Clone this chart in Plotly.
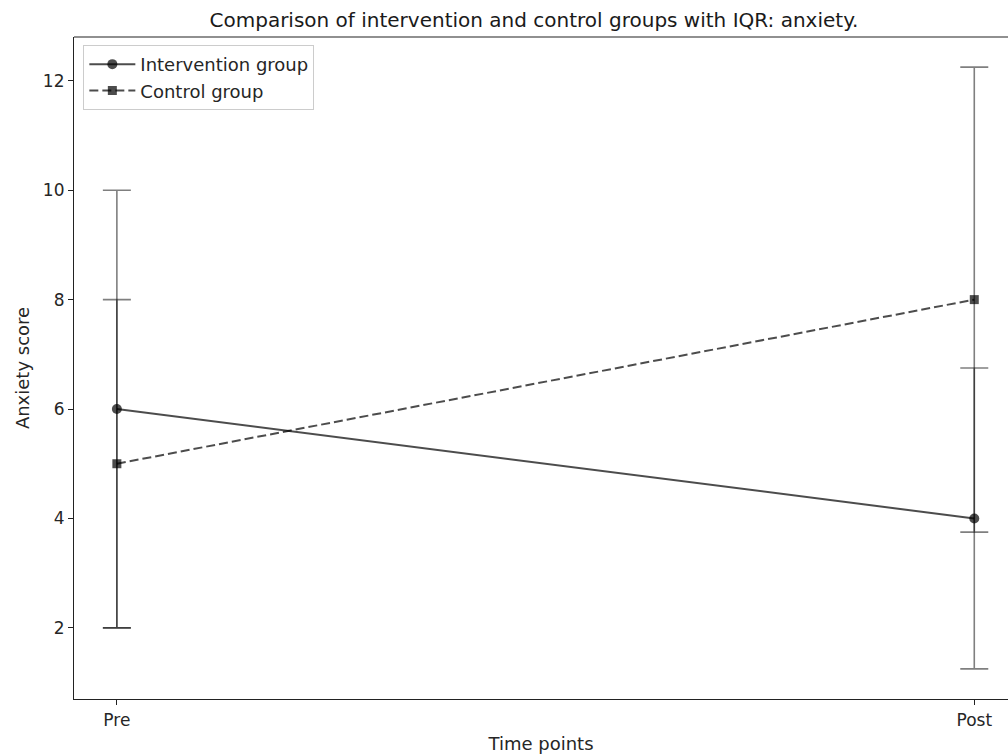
import plotly.graph_objects as go

time_points = ["Pre", "Post"]
x_pos = [0, 1]

intervention_median = [6, 4]
intervention_q1 = [2, 3.75]
intervention_q3 = [8, 6.75]

control_median = [5, 8]
control_q1 = [2, 1.25]
control_q3 = [10, 12.25]

line_col = "rgba(0,0,0,0.7)"
err_col = "rgba(0,0,0,0.5)"
font_family = "DejaVu Sans"

def err(med, q1, q3):
    return dict(type="data", symmetric=False,
                array=[h - m for m, h in zip(med, q3)],
                arrayminus=[m - l for m, l in zip(med, q1)],
                color=err_col, thickness=1.6, width=14)

fig = go.Figure()
fig.add_trace(go.Scatter(
    x=x_pos, y=intervention_median, name="Intervention group",
    mode="lines+markers",
    line=dict(color=line_col, width=2),
    marker=dict(symbol="circle", size=10, color=line_col),
    error_y=err(intervention_median, intervention_q1, intervention_q3),
))
fig.add_trace(go.Scatter(
    x=x_pos, y=control_median, name="Control group",
    mode="lines+markers",
    line=dict(color=line_col, width=2, dash="9px,4px"),
    marker=dict(symbol="square", size=9, color=line_col),
    error_y=err(control_median, control_q1, control_q3),
))

fig.update_layout(
    width=1008, height=755,
    margin=dict(l=74, r=0, t=37, b=56),
    paper_bgcolor="white", plot_bgcolor="white",
    font=dict(family=font_family, size=18, color="#262626"),
    title=dict(text="Comparison of intervention and control groups with IQR: anxiety.",
               xref="container", yref="container", x=534/1008, y=1-20/755,
               xanchor="center", yanchor="middle",
               font=dict(family=font_family, size=20, color="#1a1a1a")),
    showlegend=True,
    legend=dict(x=0.01, y=0.988, xanchor="left", yanchor="top",
                bgcolor="rgba(255,255,255,0.8)", bordercolor="#cccccc", borderwidth=1,
                font=dict(family=font_family, size=18, color="#262626"),
                tracegroupgap=0, itemwidth=46),
    shapes=[dict(type="line", xref="paper", yref="paper", x0=0, x1=1, y0=1, y1=1,
                 line=dict(color="#222", width=1.2))],
)
fig.update_xaxes(
    range=[-0.05, 1 + (1008 - 974.3) / 856.8],
    tickmode="array", tickvals=x_pos, ticktext=time_points,
    showline=True, linecolor="#222", linewidth=1.2, mirror=False,
    ticks="outside", ticklen=5, tickcolor="#222",
    showgrid=False, zeroline=False,
    title=dict(text="Time points", standoff=8, font=dict(size=18)),
    tickfont=dict(size=17),
)
fig.update_yaxes(
    range=[0.7, 12.8],
    tickmode="array", tickvals=[2, 4, 6, 8, 10, 12],
    showline=True, linecolor="#222", linewidth=1.2, mirror=False,
    ticks="outside", ticklen=5, tickcolor="#222",
    showgrid=False, zeroline=False,
    title=dict(text="Anxiety score", standoff=8, font=dict(size=18)),
    tickfont=dict(size=17),
)

fig.write_html("out.html", config={"displayModeBar": False},
               post_script="document.body.style.margin='0';document.body.style.overflow='hidden';")
